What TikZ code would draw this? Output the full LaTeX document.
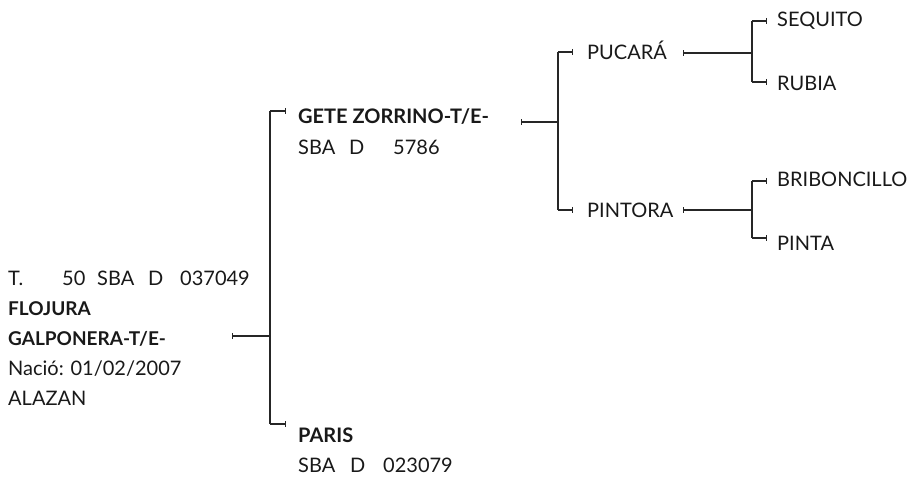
\documentclass[tikz,border=0pt]{standalone}
\usepackage{fontspec}
\setmainfont{Lato}
\usetikzlibrary{arrows.meta}
\newcommand{\tok}[2]{\makebox[#1][l]{#2}}
\begin{document}
\begin{tikzpicture}[x=1pt,y=-1pt,
  lbl/.style={anchor=base west,inner sep=0pt,font=\fontsize{20}{24}\selectfont,text=black!90},
  bl/.style={lbl,font=\fontsize{20}{24}\selectfont\bfseries},
  bls/.style={lbl,font=\fontsize{19}{24}\selectfont\bfseries},
  conn/.style={draw=black!85,line width=1.1pt},
  tickstart/.style={conn,{Bar[width=6pt,line width=1.1pt]}-},
  tickend/.style={conn,-{Bar[width=6pt,line width=1.1pt]}}]
\useasboundingbox (0,0) rectangle (909,478);
% root
\node[lbl] (r1) at (8,285) {\tok{54pt}{T.}\tok{35pt}{50}\tok{51pt}{SBA}\tok{32pt}{D}037049};
\node[bls] (r2) at (8,315) {FLOJURA};
\node[bls] (r3) at (8,345) {GALPONERA-T/E-};
\node[lbl] (r4) at (8,375) {Nació: 01/02/2007};
\node[lbl] (r5) at (8,405) {ALAZAN};
% generation 1
\node[bl] (s1) at (298,124) {GETE ZORRINO-T/E-};
\node[lbl] (s2) at (298,155) {\tok{51pt}{SBA}\tok{44pt}{D}5786};
\node[bl] (d1) at (298,442) {PARIS};
\node[lbl] (d2) at (298,472) {\tok{52pt}{SBA}\tok{33pt}{D}023079};
% generation 2
\node[lbl] (ss) at (587,60) {PUCARÁ};
\node[lbl] (sd) at (587,218) {PINTORA};
% generation 3
\node[lbl] (sss) at (777,27) {SEQUITO};
\node[lbl] (ssd) at (777,91) {RUBIA};
\node[lbl] (sds) at (777,187) {BRIBONCILLO};
\node[lbl] (sdd) at (777,250) {PINTA};
% coordinates
\coordinate (r0) at (232,336);
\coordinate (j0) at (270,336);
\coordinate (j0t) at (270,111);
\coordinate (j0b) at (270,424);
\coordinate (e0t) at (286,111);
\coordinate (e0b) at (286,424);
\coordinate (s0) at (521,122);
\coordinate (j1) at (558,122);
\coordinate (j1t) at (558,52);
\coordinate (j1b) at (558,210);
\coordinate (e1t) at (573,52);
\coordinate (e1b) at (573,210);
\coordinate (ss0) at (683,53);
\coordinate (j2) at (752,53);
\coordinate (j2t) at (752,21);
\coordinate (j2b) at (752,82);
\coordinate (e2t) at (767,21);
\coordinate (e2b) at (767,82);
\coordinate (sd0) at (683,210);
\coordinate (j3) at (752,210);
\coordinate (j3t) at (752,181);
\coordinate (j3b) at (752,238);
\coordinate (e3t) at (767,181);
\coordinate (e3b) at (767,238);
% connectors
\draw[tickstart] (r0) -- (j0);
\draw[conn] (j0t) -- (j0b);
\draw[tickend] (j0t) -- (e0t);
\draw[tickend] (j0b) -- (e0b);
\draw[tickstart] (s0) -- (j1);
\draw[conn] (j1t) -- (j1b);
\draw[tickend] (j1t) -- (e1t);
\draw[tickend] (j1b) -- (e1b);
\draw[tickstart] (ss0) -- (j2);
\draw[conn] (j2t) -- (j2b);
\draw[tickend] (j2t) -- (e2t);
\draw[tickend] (j2b) -- (e2b);
\draw[tickstart] (sd0) -- (j3);
\draw[conn] (j3t) -- (j3b);
\draw[tickend] (j3t) -- (e3t);
\draw[tickend] (j3b) -- (e3b);
\end{tikzpicture}
\end{document}
